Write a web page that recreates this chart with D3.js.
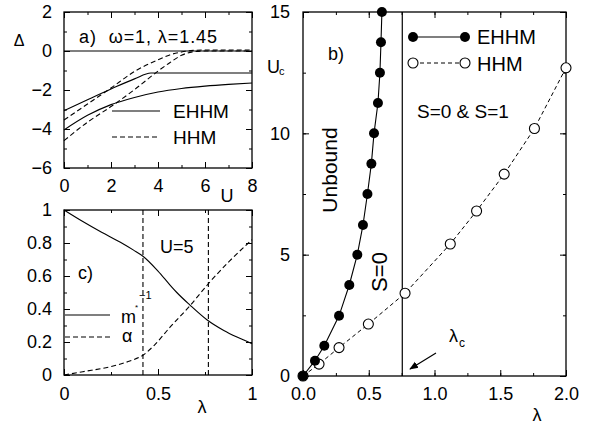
<!DOCTYPE html>
<html><head><meta charset="utf-8">
<script src="https://cdn.jsdelivr.net/npm/d3@7"></script>
<style>
body{margin:0;background:#fff}
svg{display:block}
text{font-family:"Liberation Sans",Arial,Helvetica,sans-serif;fill:#000}
</style>
</head><body>
<svg id="chart" width="596" height="429"></svg>
<script>
// ---------- Panel a) data : gap Δ vs U ----------
const aEhhmZero  = [[0,0],[8,0]];
const aEhhmUpper = [[0,-3.06],[1,-2.5],[2,-1.95],[3,-1.43],[3.7,-1.13],[4,-1.13],[8,-1.13]];
const aEhhmLower = [[0,-4.05],[1,-3.3],[2,-2.75],[3,-2.38],[4,-2.1],[5,-1.92],[6,-1.8],[7,-1.71],[8,-1.64]];
const aHhmUpper  = [[0,-3.54],[1,-2.72],[2,-1.9],[3,-1.05],[4,-0.45],[4.5,-0.2],[5,-0.05],[5.5,0.03],[6,0.05],[8,0.05]];
const aHhmLower  = [[0,-4.6],[1,-3.65],[2,-2.85],[3,-1.98],[4,-1.03],[4.5,-0.6],[5,-0.22],[5.5,-0.04],[6,0],[8,0]];
const aTicksX = [0,2,4,6,8];
const aTicksY = [2,0,-2,-4,-6];

// ---------- Panel c) data : m*^-1 and α vs λ (U=5) ----------
const cMinv  = [[0,1],[0.1,0.93],[0.2,0.865],[0.3,0.805],[0.37,0.757],[0.42,0.72],[0.5,0.63],[0.564,0.545],[0.6,0.5],[0.67,0.424],[0.76,0.335],[0.85,0.27],[0.92,0.23],[1.0,0.19]];
const cAlpha = [[0,0],[0.1,0.02],[0.245,0.05],[0.35,0.085],[0.42,0.12],[0.48,0.18],[0.564,0.29],[0.67,0.42],[0.77,0.556],[0.88,0.69],[1.0,0.82]];
const cMarkers = [0.42, 0.768];
const cTicksX = [0,0.5,1];
const cTicksY = [0,0.2,0.4,0.6,0.8,1];

// ---------- Panel b) data : U_c vs λ ----------
const bEhhmLambda = [0,0.091,0.162,0.274,0.352,0.413,0.456,0.49,0.52,0.54,0.57,0.585,0.593,0.60];
const bEhhmU      = [0,0.63,1.25,2.48,3.75,5.0,6.22,7.5,8.75,10,11.25,12.5,13.75,15];
const bHhmLambda  = [0,0.122,0.274,0.497,0.776,1.12,1.32,1.53,1.76,2.0];
const bHhmU       = [0,0.49,1.17,2.14,3.41,5.44,6.8,8.32,10.2,12.7];
const bLambdaC = 0.755;
const bTicksX = [0,0.5,1.0,1.5,2.0];
const bTicksY = [0,5,10,15];

const svg = d3.select("#chart");
const FS = 18;

function frame(g, x, y, xMaj, xMin, yMaj, yMin, xFmt, yFmt, xPad, yPad) {
  const [x0,x1] = x.range(), [y0,y1] = y.range();
  g.append("g").attr("transform",`translate(0,${y0})`).call(d3.axisBottom(x).tickValues(xMin).tickSize(-3).tickFormat(""));
  g.append("g").attr("transform",`translate(0,${y1})`).call(d3.axisTop(x).tickValues(xMin).tickSize(-3).tickFormat(""));
  g.append("g").attr("transform",`translate(${x0},0)`).call(d3.axisLeft(y).tickValues(yMin).tickSize(-3).tickFormat(""));
  g.append("g").attr("transform",`translate(${x1},0)`).call(d3.axisRight(y).tickValues(yMin).tickSize(-3).tickFormat(""));
  g.append("g").attr("class","lab").attr("transform",`translate(0,${y0})`).call(d3.axisBottom(x).tickValues(xMaj).tickSize(-6).tickPadding(xPad).tickFormat(xFmt));
  g.append("g").attr("transform",`translate(0,${y1})`).call(d3.axisTop(x).tickValues(xMaj).tickSize(-6).tickFormat(""));
  g.append("g").attr("class","lab").attr("transform",`translate(${x0},0)`).call(d3.axisLeft(y).tickValues(yMaj).tickSize(-6).tickPadding(yPad).tickFormat(yFmt));
  g.append("g").attr("transform",`translate(${x1},0)`).call(d3.axisRight(y).tickValues(yMaj).tickSize(-6).tickFormat(""));
  g.selectAll(".domain").remove();
  g.selectAll(".tick line").attr("stroke","#000").attr("stroke-width",1);
  g.selectAll(".lab text").attr("font-size",FS).attr("font-family",null).attr("fill","#000");
  g.append("rect").attr("x",x0).attr("y",y1).attr("width",x1-x0).attr("height",y0-y1)
    .attr("fill","none").attr("stroke","#000").attr("stroke-width",1.3);
}
function range(a,b,s){const r=[];for(let v=a;v<=b+1e-9;v+=s)r.push(+v.toFixed(4));return r;}

// ===== Panel a =====
{
  const x = d3.scaleLinear().domain([0,8]).range([64,252]);
  const y = d3.scaleLinear().domain([-6,2]).range([168,12]);
  const g = svg.append("g");
  const line = d3.line().x(d=>x(d[0])).y(d=>y(d[1])).curve(d3.curveMonotoneX);
  const cl = g.append("g");
  [aEhhmZero,aEhhmUpper,aEhhmLower].forEach(d=>cl.append("path").attr("d",line(d)).attr("fill","none").attr("stroke","#000").attr("stroke-width",1.1));
  [aHhmUpper,aHhmLower].forEach(d=>cl.append("path").attr("d",line(d)).attr("fill","none").attr("stroke","#000").attr("stroke-width",1.1).attr("stroke-dasharray","5,3"));
  frame(g,x,y,aTicksX,range(0,8,1),aTicksY,range(-6,2,1),d3.format("d"),d3.format("d"),11,12);
  g.append("text").attr("x",79).attr("y",43).attr("font-size",FS).style("white-space","pre")
    .attr("textLength",138).attr("lengthAdjust","spacing").text("a)  ω=1, λ=1.45");
  g.append("text").attr("x",19).attr("y",46).attr("font-size",16).attr("text-anchor","middle").text("Δ");
  g.append("text").attr("x",227).attr("y",202).attr("font-size",FS).attr("text-anchor","middle").text("U");
  g.append("line").attr("x1",112).attr("x2",160).attr("y1",111).attr("y2",111).attr("stroke","#000").attr("stroke-width",1.1);
  g.append("line").attr("x1",112).attr("x2",160).attr("y1",137).attr("y2",137).attr("stroke","#000").attr("stroke-width",1.1).attr("stroke-dasharray","5,3");
  g.append("text").attr("x",173).attr("y",118).attr("font-size",19).text("EHHM");
  g.append("text").attr("x",173).attr("y",144).attr("font-size",19).text("HHM");
}

// ===== Panel c =====
{
  const x = d3.scaleLinear().domain([0,1]).range([64,252]);
  const y = d3.scaleLinear().domain([0,1]).range([375,210]);
  const g = svg.append("g");
  const line = d3.line().x(d=>x(d[0])).y(d=>y(d[1])).curve(d3.curveMonotoneX);
  cMarkers.forEach(v=>g.append("line").attr("x1",x(v)).attr("x2",x(v)).attr("y1",y(0)).attr("y2",y(1))
    .attr("stroke","#000").attr("stroke-width",1.1).attr("stroke-dasharray","5,3"));
  g.append("path").attr("d",line(cMinv)).attr("fill","none").attr("stroke","#000").attr("stroke-width",1.1);
  g.append("path").attr("d",line(cAlpha)).attr("fill","none").attr("stroke","#000").attr("stroke-width",1.1).attr("stroke-dasharray","5,3");
  frame(g,x,y,cTicksX,range(0,1,0.25),cTicksY,range(0,1,0.1),d3.format(""),d3.format(""),12,12);
  g.append("text").attr("x",160).attr("y",253).attr("font-size",FS).text("U=5");
  g.append("text").attr("x",78).attr("y",279).attr("font-size",FS).text("c)");
  g.append("text").attr("x",202).attr("y",413).attr("font-size",FS).attr("text-anchor","middle").text("λ");
  g.append("line").attr("x1",65).attr("x2",110).attr("y1",315).attr("y2",315).attr("stroke","#000").attr("stroke-width",1.1);
  g.append("line").attr("x1",65).attr("x2",110).attr("y1",337).attr("y2",337).attr("stroke","#000").attr("stroke-width",1.1).attr("stroke-dasharray","5,3");
  g.append("text").attr("x",121).attr("y",323).attr("font-size",FS).text("m");
  g.append("text").attr("x",135).attr("y",310).attr("font-size",8).text("*");
  g.append("text").attr("x",139).attr("y",299).attr("font-size",11).text("−1");
  g.append("text").attr("x",122).attr("y",342).attr("font-size",FS).text("α");
}

// ===== Panel b =====
{
  const x = d3.scaleLinear().domain([0,2]).range([303,566]);
  const y = d3.scaleLinear().domain([0,15]).range([376,12]);
  const g = svg.append("g");
  const ehhm = bEhhmLambda.map((l,i)=>[l,bEhhmU[i]]);
  const hhm = bHhmLambda.map((l,i)=>[l,bHhmU[i]]);
  const line = d3.line().x(d=>x(d[0])).y(d=>y(d[1]));
  g.append("line").attr("x1",x(bLambdaC)).attr("x2",x(bLambdaC)).attr("y1",y(0)).attr("y2",y(15)).attr("stroke","#000").attr("stroke-width",1.2);
  g.append("path").attr("d",line(hhm)).attr("fill","none").attr("stroke","#000").attr("stroke-width",1).attr("stroke-dasharray","4,3");
  g.append("path").attr("d",line(ehhm)).attr("fill","none").attr("stroke","#000").attr("stroke-width",1.1);
  frame(g,x,y,bTicksX,range(0,2,0.25),bTicksY,range(0,15,2.5),d3.format(".1f"),d3.format("d"),11,13);
  g.selectAll("circle.h").data(hhm).join("circle").attr("class","h").attr("cx",d=>x(d[0])).attr("cy",d=>y(d[1])).attr("r",5)
    .attr("fill","#fff").attr("stroke","#000").attr("stroke-width",1.1);
  g.selectAll("circle.e").data(ehhm).join("circle").attr("class","e").attr("cx",d=>x(d[0])).attr("cy",d=>y(d[1])).attr("r",5)
    .attr("fill","#000");
  g.append("line").attr("x1",413).attr("x2",465).attr("y1",37).attr("y2",37).attr("stroke","#000").attr("stroke-width",1.1);
  g.append("line").attr("x1",413).attr("x2",465).attr("y1",63).attr("y2",63).attr("stroke","#000").attr("stroke-width",1).attr("stroke-dasharray","4,3");
  [413,465].forEach(cx=>{
    g.append("circle").attr("cx",cx).attr("cy",37).attr("r",5).attr("fill","#000");
    g.append("circle").attr("cx",cx).attr("cy",63).attr("r",5).attr("fill","#fff").attr("stroke","#000").attr("stroke-width",1.1);
  });
  g.append("text").attr("x",477).attr("y",44).attr("font-size",20).text("EHHM");
  g.append("text").attr("x",477).attr("y",71).attr("font-size",20).text("HHM");
  g.append("text").attr("x",417).attr("y",118).attr("font-size",19).text("S=0 & S=1");
  g.append("text").attr("x",328).attr("y",60).attr("font-size",FS).text("b)");
  g.append("text").attr("x",267).attr("y",73).attr("font-size",FS).text("U");
  g.append("text").attr("x",279).attr("y",75).attr("font-size",11).text("c");
  g.append("text").attr("transform","translate(337,170) rotate(-90)").attr("text-anchor","middle").attr("font-size",21).text("Unbound");
  g.append("text").attr("transform","translate(387,272) rotate(-90)").attr("text-anchor","middle").attr("font-size",22).text("S=0");
  g.append("text").attr("x",537).attr("y",421).attr("font-size",FS).attr("text-anchor","middle").text("λ");
  g.append("text").attr("x",449).attr("y",342).attr("font-size",FS).text("λ");
  g.append("text").attr("x",459).attr("y",347).attr("font-size",12).text("c");
  svg.append("defs").append("marker").attr("id","ah").attr("viewBox","0 0 10 10").attr("refX",9).attr("refY",5)
    .attr("markerWidth",8).attr("markerHeight",8).attr("orient","auto")
    .append("path").attr("d","M0,1 L10,5 L0,9 Z").attr("fill","#000");
  g.append("line").attr("x1",436).attr("y1",353).attr("x2",410).attr("y2",369).attr("stroke","#000").attr("stroke-width",1.1).attr("marker-end","url(#ah)");
}
</script>
</body></html>
